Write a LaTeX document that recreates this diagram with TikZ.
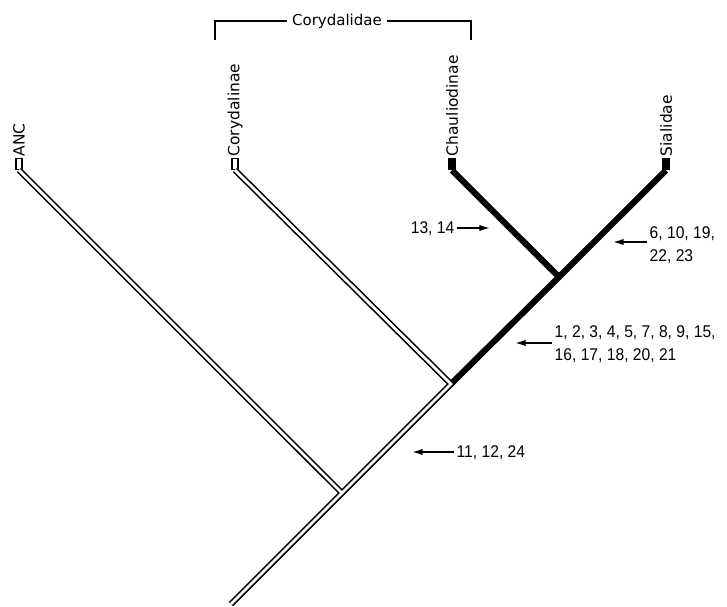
\documentclass[tikz,border=0pt]{standalone}
\usepackage{fontspec}
\setmainfont{Liberation Sans}
\newfontfamily\taxfont{DejaVu Sans}
\usetikzlibrary{arrows.meta,positioning}

\begin{document}
\begin{tikzpicture}[x=0.75pt,y=0.75pt,yscale=-1,xscale=1,
    openline/.style={draw=black,line width=1.2pt,double=white,double distance=2.1pt,line join=miter},
    solidline/.style={draw=black,line width=4.6pt},
    opentip/.style={draw=black,fill=white,line width=1.2pt,minimum width=4.6pt,minimum height=8pt,inner sep=0pt},
    solidtip/.style={fill=black,minimum width=5.4pt,minimum height=9pt,inner sep=0pt},
    taxon/.style={font=\taxfont\fontsize{11.6pt}{13pt}\selectfont,rotate=90,anchor=west,inner sep=1pt},
    chars/.style={font=\fontsize{12.75pt}{17.25pt}\selectfont,xscale=0.92,align=left,inner sep=2pt},
    charrow/.style={line width=1.2pt,-{Latex[length=8pt,width=4.8pt]}},
    bracket/.style={line width=1.2pt}]
        \useasboundingbox (0,0) rectangle (727,606);

        %Shape: Rectangle [tips]
        \node[opentip] (anc) at (19,164) {};
        \node[opentip] (cory) at (235,164) {};
        \node[solidtip] (chau) at (452,164) {};
        \node[solidtip] (sial) at (666,164) {};
        %Coordinates [junctions]
        \coordinate (root) at (231,604);
        \coordinate (jANC) at (342,493);
        \coordinate (jCory) at (451,384);
        \coordinate (jChau) at (559,277);

        %Straight Lines [thick branches]
        \draw[solidline] (jCory) -- (jChau) -- (sial.south) (chau.south) -- (jChau);
        %Straight Lines [open branches]
        \draw[openline] (root) -- (jCory) -- (cory.south) (anc.south) -- (jANC);

        %Text [taxa]
        \node[taxon] (ancLab) at (anc.north) {ANC};
        \node[taxon] (coryLab) at (cory.north) {Corydalinae};
        \node[taxon] (chauLab) at (chau.north) {Chauliodinae};
        \node[taxon] (sialLab) at (sial.north) {Sialidae};

        %Text [family] and bracket
        \node[font=\taxfont\fontsize{11.25pt}{13pt}\selectfont,inner sep=4pt] (family) at (337,21) {Corydalidae};
        \coordinate (brL) at (215,40);
        \coordinate (brR) at (471,40);
        \draw[bracket] (family.west) -- (family.west -| brL) -- (brL);
        \draw[bracket] (family.east) -- (family.east -| brR) -- (brR);

        %Text [characters] with arrows
        \node[chars,anchor=east] (c13) at (457,229) {13, 14};
        \coordinate (h13) at (490,228);
        \draw[charrow] (c13.east |- h13) -- (h13);

        \node[chars,anchor=west] (c6) at (647,245) {6, 10, 19,\\22, 23};
        \coordinate (h6) at (613,242);
        \draw[charrow] (c6.west |- h6) -- (h6);

        \node[chars,anchor=west] (c1) at (552,344) {1, 2, 3, 4, 5, 7, 8, 9, 15,\\16, 17, 18, 20, 21};
        \coordinate (h1) at (515,343);
        \draw[charrow] (c1.west |- h1) -- (h1);

        \node[chars,anchor=west] (c11) at (454,453) {11, 12, 24};
        \coordinate (h11) at (412,452);
        \draw[charrow] (c11.west |- h11) -- (h11);
    \end{tikzpicture}
\end{document}
